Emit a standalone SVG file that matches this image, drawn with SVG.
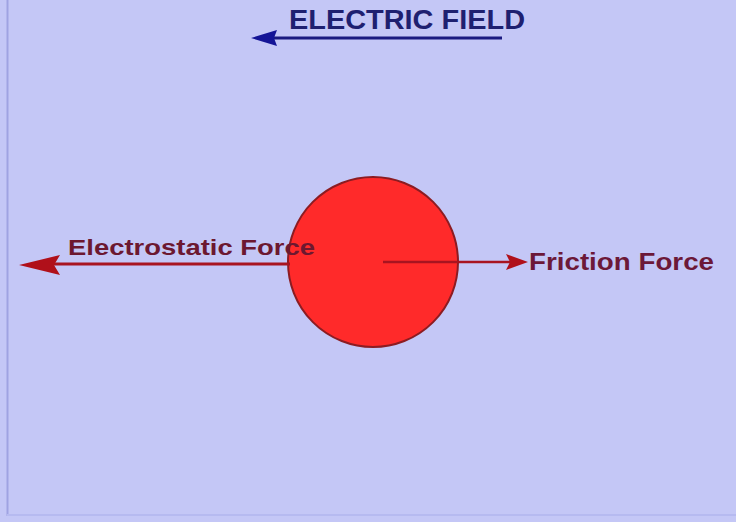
<svg xmlns="http://www.w3.org/2000/svg" width="736" height="522" viewBox="0 0 736 522">
<style>
.lbl{font-family:"Liberation Sans",Arial,sans-serif;font-weight:bold;}
</style>
<defs>
<marker id="headBlue" markerWidth="10" markerHeight="10" refX="9" refY="5" orient="auto" markerUnits="userSpaceOnUse" viewBox="0 0 10 10">
<path d="M0,0 L10,5 L0,10 Z" fill="#1a1a88"/>
</marker>
</defs>
<rect x="0" y="0" width="736" height="522" fill="#c4c7f6"/>
<line x1="7.5" y1="0" x2="7.5" y2="516" stroke="#9fa3e2" stroke-width="2"/>
<line x1="7" y1="515" x2="736" y2="515" stroke="#b6baf0" stroke-width="2"/>
<g id="field">
<line x1="502" y1="38" x2="272" y2="38" stroke="#1a1a80" stroke-width="3"/>
<polygon points="251,38 277,30 274,38 277,46" fill="#141496"/>
<text class="lbl" x="289" y="29" font-size="27" fill="#1e2070" textLength="236" lengthAdjust="spacingAndGlyphs">ELECTRIC FIELD</text>
</g>
<g id="charge">
<circle cx="373" cy="262" r="85" fill="#ff2a2a" stroke="#8c1c22" stroke-width="2"/>
</g>
<g id="connectors">
<line x1="290" y1="264" x2="44" y2="264" stroke="#a81420" stroke-width="3"/>
<polygon points="19,265 60,255 54,265 60,275" fill="#b0101a"/>
<line x1="383" y1="262" x2="512" y2="262" stroke="#a81420" stroke-width="2.5"/>
<polygon points="528,262 506,254 510,262 506,270" fill="#b0101a"/>
</g>
<g id="labels">
<text class="lbl" x="68" y="255" font-size="22" fill="#6c1830" textLength="247" lengthAdjust="spacingAndGlyphs">Electrostatic Force</text>
<text class="lbl" x="529" y="270" font-size="23" fill="#6c1838" textLength="185" lengthAdjust="spacingAndGlyphs">Friction Force</text>
</g>
</svg>
